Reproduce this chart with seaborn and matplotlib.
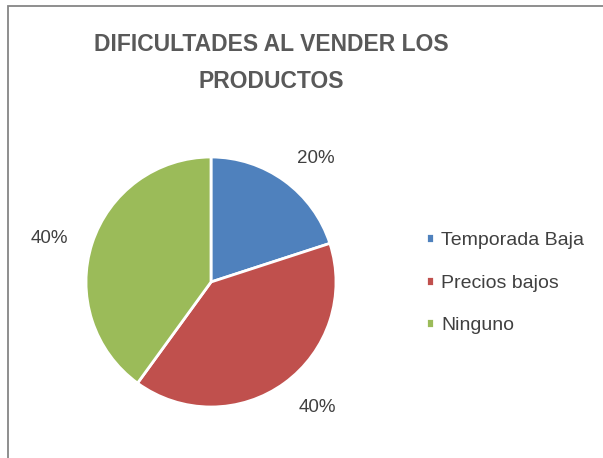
import matplotlib
matplotlib.use("Agg")
from matplotlib import pyplot as plt
from matplotlib.patches import Rectangle
from matplotlib import font_manager
import seaborn as sns

categorias = ["Temporada Baja", "Precios bajos", "Ninguno"]
porcentajes = [20, 40, 40]
colores = ["#4F81BD", "#C0504D", "#9BBB59"]
titulo = "DIFICULTADES AL VENDER LOS\nPRODUCTOS"

sns.set_theme(style="white")
nombres = {f.name for f in font_manager.fontManager.ttflist}
fuente = "Liberation Sans Narrow" if "Liberation Sans Narrow" in nombres else "Liberation Sans"
plt.rcParams["font.family"] = [fuente, "DejaVu Sans"]

W, H = 603, 458
fig = plt.figure(figsize=(W / 100, H / 100), dpi=100)

# marco del grafico
fig.patches.append(Rectangle((8 / W, -0.1), 1.2, (H - 6) / H + 0.1, transform=fig.transFigure,
                             fill=False, edgecolor="#868686", linewidth=1.3))

r = 125
cx, cy = 211, H - 282
ax = fig.add_axes([(cx - r) / W, (cy - r) / H, 2 * r / W, 2 * r / H])
wedges, _, autotexts = ax.pie(porcentajes, colors=colores, startangle=90, counterclock=False,
                              autopct="%1.0f%%", pctdistance=1.3,
                              wedgeprops=dict(edgecolor="white", linewidth=2),
                              textprops=dict(color="#404040", fontsize=13.5))
ax.set_xlim(-1, 1)
ax.set_ylim(-1, 1)
ax.set_aspect("equal")

# etiquetas colocadas como en Excel (ajuste "mejor posicion")
for t, pos in zip(autotexts, [(0.84, 0.99), (0.85, -1.0), (-1.29, 0.35)]):
    t.set_position(pos)

fig.text(271 / W, 1 - 63 / H, titulo, ha="center", va="center",
         fontsize=16.5, fontweight="bold", color="#595959", linespacing=1.75)

fig.legend(wedges, categorias, loc="center left", bbox_to_anchor=(408 / W, 1 - 283 / H),
           frameon=False, fontsize=14, labelcolor="#404040",
           handlelength=0.42, handleheight=0.42, handletextpad=0.4, labelspacing=1.3)

fig.savefig("out.png", dpi=100)
